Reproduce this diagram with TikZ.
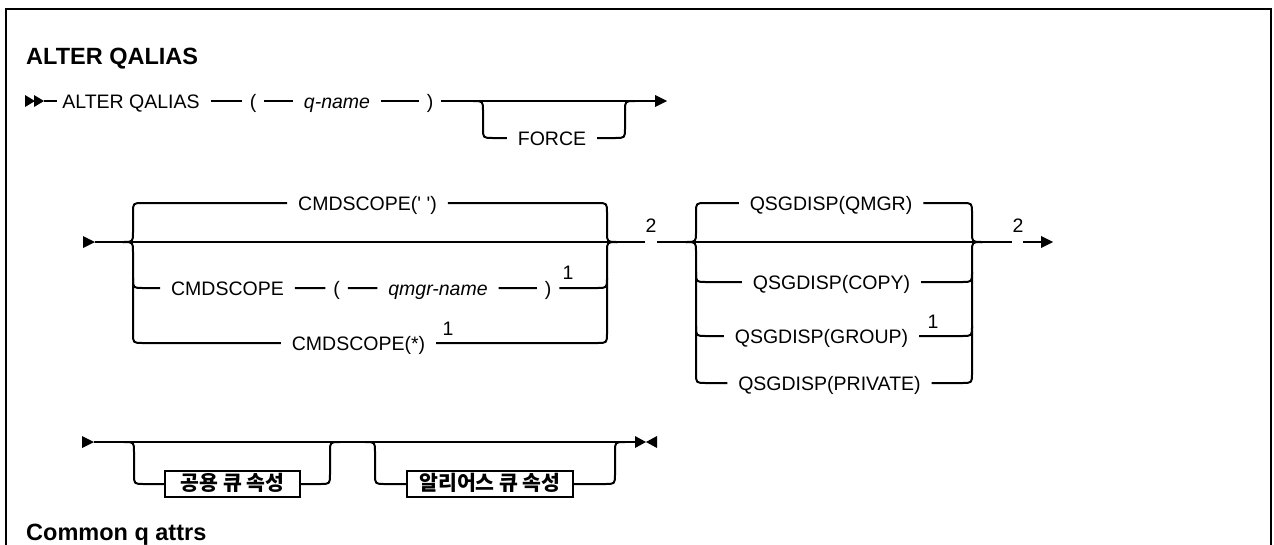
\documentclass[tikz,border=0pt]{standalone}
\usepackage{fontspec}
\setmainfont{Liberation Sans}
\newfontfamily\krfont{Noto Sans CJK KR}
\newcommand\railfont{\fontsize{19.5}{23}\selectfont}
\begin{document}
\begin{tikzpicture}[x=1pt,y=-1pt,
  rail/.style={line width=2pt, line join=round},
  tip/.style={fill=black, draw=none},
  rt/.style={font=\railfont, text height=14pt, text depth=0pt, inner xsep=11pt, inner ysep=0pt, outer sep=0pt},
  pr/.style={rt, inner xsep=8pt},
  note/.style={font=\railfont, inner sep=0pt, anchor=base},
  nt/.style={draw, line width=2pt, font=\krfont\fontsize{20.5}{24}\selectfont\bfseries, text height=16pt, text depth=2.5pt, inner xsep=5pt, inner ysep=3.5pt, outer sep=0pt},
  head/.style={font=\fontsize{23.5}{28}\selectfont\bfseries, inner sep=0pt, anchor=base west}
]
\useasboundingbox (0,0) rectangle (1274,544);
% frame
\draw[line width=2.5pt] (6,548) -- (6,9) -- (1271,9) -- (1271,548);

% ---------- heading ----------
\node[head] (title) at (26,64) {ALTER QALIAS};

% ---------- row 1 ----------
\fill[tip] (25,95) -- (35,101) -- (25,107) -- cycle;
\fill[tip] (34,95) -- (44,101) -- (34,107) -- cycle;
\coordinate (r1s) at (44,101);
\coordinate (r1e) at (655,101);
\node[rt] (alt) at (131,101) {ALTER QALIAS};
\node[pr] (lp1) at (253,101) {(};
\node[rt] (qn) at (337,101) {\itshape q-name};
\node[pr] (rp1) at (430,101) {)};
\node[rt] (force) at (552,138) {FORCE};
\draw[rail] (r1s) -- ([xshift=6pt]alt.west) (alt.east) -- (lp1.west) (lp1.east) -- (qn.west)
  (qn.east) -- (rp1.west) (rp1.east) -- (r1e);
\fill[tip] (655,95) -- (667,101) -- (655,107) -- cycle;
\draw[rail] (473,101) .. controls (483,101) .. (483,111) -- (483,128) .. controls (483,138) .. (493,138) -- (force.west)
  (force.east) -- (615,138) .. controls (625,138) .. (625,128) -- (625,111) .. controls (625,101) .. (635,101);

% ---------- row 2 ----------
\fill[tip] (83,236) -- (95,242) -- (83,248) -- cycle;
\coordinate (r2s) at (95,242);
\node[rt] (cs1) at (367.5,203) {CMDSCOPE(\textquotesingle\ \textquotesingle)};
\node[rt] (cs2) at (227.5,288) {CMDSCOPE};
\node[pr] (lp2) at (336.5,288) {(};
\node[rt] (qm) at (438,288) {\itshape qmgr-name};
\node[pr] (rp2) at (548,288) {)};
\node[rt] (cs3) at (358.5,343) {CMDSCOPE(*)};
\node[note] (n1a) at (568,279) {1};
\node[note] (n1b) at (448,335) {1};
\node[note] (two1) at (651,232) {2};

\draw[rail] (r2s) -- (645,242) (657,242) -- (1012,242) (1023,242) -- (1041,242);
\fill[tip] (1041,236) -- (1053,242) -- (1041,248) -- cycle;
\draw[rail] (123,242) .. controls (133,242) .. (133,232) -- (133,213) .. controls (133,203) .. (143,203) -- (cs1.west)
  (cs1.east) -- (597,203) .. controls (607,203) .. (607,213) -- (607,232) .. controls (607,242) .. (617,242);
\draw[rail] (123,242) .. controls (133,242) .. (133,252) -- (133,333) .. controls (133,343) .. (143,343) -- (cs3.west)
  (cs3.east) -- (597,343) .. controls (607,343) .. (607,333) -- (607,252) .. controls (607,242) .. (617,242);
\draw[rail] (133,278) .. controls (133,288) .. (143,288) -- (cs2.west) (cs2.east) -- (lp2.west) (lp2.east) -- (qm.west)
  (qm.east) -- (rp2.west) (rp2.east) -- (597,288) .. controls (607,288) .. (607,278);

% group 2
\node[rt] (q1) at (831,203) {QSGDISP(QMGR)};
\node[rt] (q2) at (831.5,282) {QSGDISP(COPY)};
\node[rt] (q3) at (821.5,336) {QSGDISP(GROUP)};
\node[rt] (q4) at (829.5,383) {QSGDISP(PRIVATE)};
\node[note] (n1c) at (933,328) {1};
\node[note] (two2) at (1018,232) {2};
\draw[rail] (686,242) .. controls (696,242) .. (696,232) -- (696,213) .. controls (696,203) .. (706,203) -- (q1.west)
  (q1.east) -- (962,203) .. controls (972,203) .. (972,213) -- (972,232) .. controls (972,242) .. (982,242);
\draw[rail] (686,242) .. controls (696,242) .. (696,252) -- (696,373) .. controls (696,383) .. (706,383) -- (q4.west)
  (q4.east) -- (962,383) .. controls (972,383) .. (972,373) -- (972,252) .. controls (972,242) .. (982,242);
\draw[rail] (696,272) .. controls (696,282) .. (706,282) -- (q2.west)
  (q2.east) -- (962,282) .. controls (972,282) .. (972,272);
\draw[rail] (696,326) .. controls (696,336) .. (706,336) -- (q3.west)
  (q3.east) -- (962,336) .. controls (972,336) .. (972,326);

% ---------- row 3 ----------
\fill[tip] (82,436) -- (94,442) -- (82,448) -- cycle;
\draw[rail] (94,442) -- (635,442);
\fill[tip] (635,436) -- (646,442) -- (635,448) -- cycle;
\fill[tip] (657,436) -- (646,442) -- (657,448) -- cycle;
\node[nt, minimum width=135pt] (b1) at (232.5,484) {공용 큐 속성};
\node[nt, minimum width=166pt] (b2) at (490,484) {알리어스 큐 속성};
\draw[rail] (124,442) .. controls (134,442) .. (134,452) -- (134,474) .. controls (134,484) .. (144,484) -- (b1.west)
  (b1.east) -- (320,484) .. controls (330,484) .. (330,474) -- (330,452) .. controls (330,442) .. (340,442);
\draw[rail] (365,442) .. controls (375,442) .. (375,452) -- (375,474) .. controls (375,484) .. (385,484) -- (b2.west)
  (b2.east) -- (605,484) .. controls (615,484) .. (615,474) -- (615,452) .. controls (615,442) .. (625,442);

\node[head] (common) at (26,540) {Common q attrs};
\end{tikzpicture}
\end{document}
